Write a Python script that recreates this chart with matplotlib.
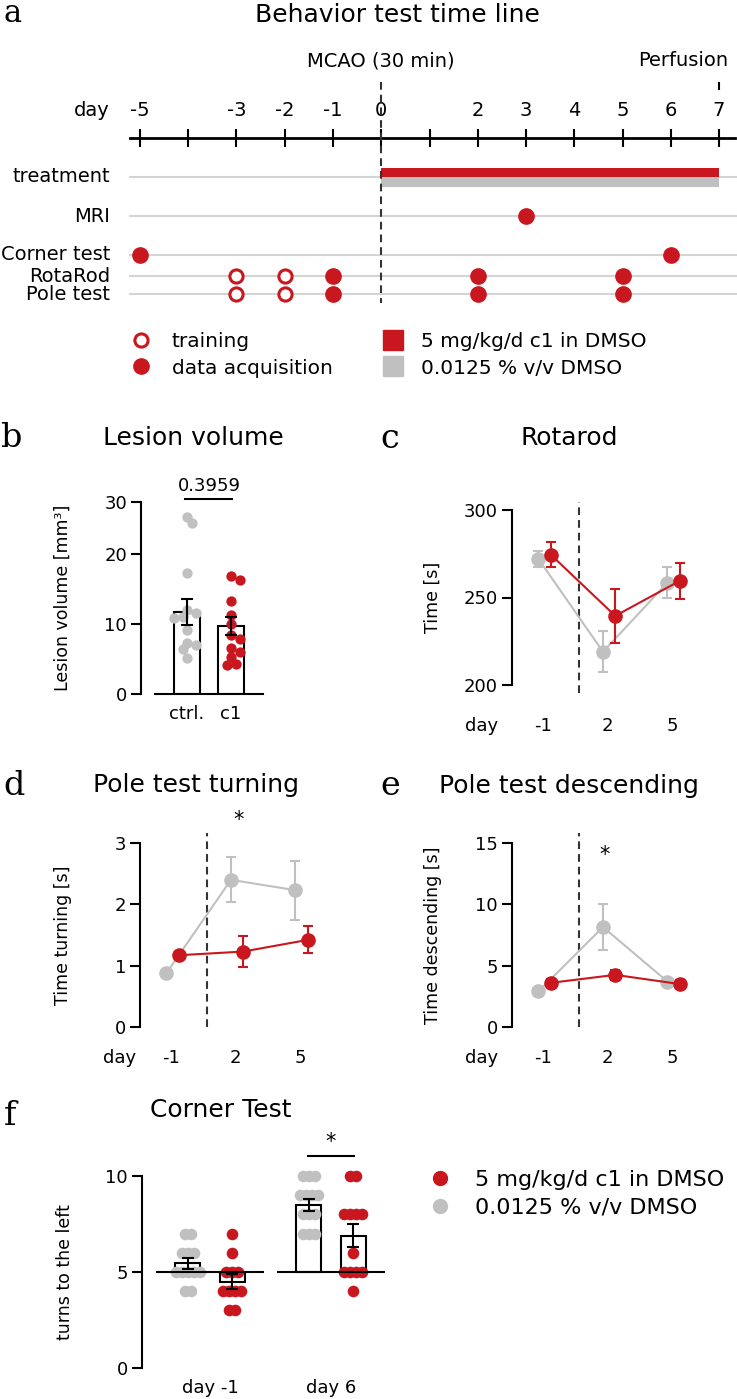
import numpy as np
import matplotlib
matplotlib.use("Agg")
import matplotlib.pyplot as plt
from matplotlib.lines import Line2D
from matplotlib.transforms import offset_copy

# ========= Data =========
# a: behaviour test time line (days)
timeline_ticks = list(range(-5, 8))
timeline_labels = [-5, -3, -2, -1, 0, 2, 3, 4, 5, 6, 7]
treatment_days = [0, 7]
row_names = ["treatment", "MRI", "Corner test", "RotaRod", "Pole test"]
mri_days = [3]
corner_days = [-5, 6]
rotarod_training = [-3, -2]
rotarod_data = [-1, 2, 5]
pole_training = [-3, -2]
pole_data = [-1, 2, 5]

# b: lesion volume [mm3]
lesion_groups = ["ctrl.", "c1"]
lesion_ctrl = [27.2, 25.9, 17.3, 12.0, 11.6, 11.0, 10.8, 9.2, 7.3, 7.0, 6.4, 5.1]
lesion_c1 = [16.8, 16.3, 13.3, 11.3, 10.0, 8.4, 7.9, 6.6, 6.0, 5.3, 4.3, 4.2]
lesion_mean = [11.7, 9.7]
lesion_sem = [1.9, 1.3]
lesion_p = "0.3959"

# c-e: days after MCAO
test_days = ["-1", "2", "5"]
rota_ctrl = [272, 219, 258.5]
rota_ctrl_sem = [4.5, 11.7, 9.0]
rota_c1 = [274.5, 239.5, 259.5]
rota_c1_sem = [7.0, 15.5, 10.5]

turn_ctrl = [0.88, 2.40, 2.23]
turn_ctrl_sem = [0.05, 0.37, 0.48]
turn_c1 = [1.17, 1.23, 1.42]
turn_c1_sem = [0.05, 0.25, 0.22]

desc_ctrl = [2.9, 8.15, 3.7]
desc_ctrl_sem = [0.2, 1.9, 0.3]
desc_c1 = [3.6, 4.25, 3.5]
desc_c1_sem = [0.3, 0.4, 0.3]

# f: corner test, turns to the left
corner_labels = ["day -1", "day 6"]
corner_ctrl_d1 = [7, 7, 6, 6, 6, 5, 5, 5, 5, 5, 4, 4]
corner_c1_d1 = [7, 6, 5, 5, 5, 4, 4, 4, 4, 3, 3]
corner_ctrl_d6 = [10, 10, 10, 9, 9, 9, 9, 8, 8, 8, 7, 7, 7]
corner_c1_d6 = [10, 10, 8, 8, 8, 8, 6, 5, 5, 5, 5, 4]
corner_ctrl_mean = [5.45, 8.5]
corner_ctrl_sem = [0.27, 0.3]
corner_c1_mean = [4.5, 6.9]
corner_c1_sem = [0.4, 0.6]
corner_baseline = 5

# ========= Style =========
W, H = 737, 1399
RED = "#c8171e"
GREY = "#c0c0c0"
ROW_GREY = "#d4d4d4"
DASH = "#333333"
DASHES = (0, (3.7, 2.4))

plt.rcParams["font.family"] = "DejaVu Sans"
fig = plt.figure(figsize=(W / 100, H / 100), dpi=100)


def px_axes(left, top, right, bottom):
    return fig.add_axes([left / W, 1 - bottom / H, (right - left) / W, (bottom - top) / H])


def px_text(x, y, s, **kw):
    fig.text(x / W, 1 - y / H, s, **kw)


def panel_letter(x, y, s, size=24):
    px_text(x, y, s, family="DejaVu Serif", fontsize=size, ha="center", va="baseline")


def panel_title(x, y, s):
    px_text(x, y, s, fontsize=18, ha="center", va="center")


def style_y(ax, label, label_px, left_px, width_px):
    for side in ["top", "right", "bottom"]:
        ax.spines[side].set_visible(False)
    ax.spines["left"].set_linewidth(1.5)
    ax.tick_params(axis="y", length=7, width=1.5, labelsize=13, pad=3)
    ax.set_ylabel(label, fontsize=12.5)
    # label anchor is the right side of the rotated text
    ax.yaxis.set_label_coords((label_px + 9 - left_px) / width_px, 0.5)


def swarm_x(ax, x0, values, diam_px, step_px):
    # push overlapping points sideways, like a beeswarm
    ys = ax.transData.transform(np.column_stack([np.full(len(values), x0), values]))[:, 1]
    unit = ax.transData.transform([[1, 0]])[0, 0] - ax.transData.transform([[0, 0]])[0, 0]
    placed = []
    offsets = []
    for y in ys:
        for k in range(40):
            off = ((k + 1) // 2) * step_px * (1 if k % 2 else -1)
            if all((off - po) ** 2 + (y - py) ** 2 >= diam_px ** 2 for po, py in placed):
                break
        placed.append((off, y))
        offsets.append(off)
    return x0 + np.array(offsets) / unit


def centered_x(x0, values, step):
    values = np.asarray(values)
    xs = np.zeros(len(values))
    for v in np.unique(values):
        idx = np.where(values == v)[0]
        xs[idx] = x0 + (np.arange(len(idx)) - (len(idx) - 1) / 2) * step
    return xs


# ========= a: time line =========
day_px = 48.25
axa = px_axes(0, 0, W, 380)
axa.set_xlim(-5 - 140 / day_px, 7 + (W - 719) / day_px)
axa.set_ylim(380, 0)
axa.axis("off")


def dx(px):
    return -5 + (px - 140) / day_px


panel_letter(13, 22, "a", 22)
panel_title(397, 15, "Behavior test time line")

axa.text(0, 61, "MCAO (30 min)", ha="center", va="center", fontsize=14)
axa.text(dx(683), 61, "Perfusion", ha="center", va="center", fontsize=14)
axa.vlines(timeline_ticks[-1], 82, 90, color="black", lw=1.5)
axa.text(dx(92), 110, "day", ha="center", va="center", fontsize=14)
for d in timeline_labels:
    axa.text(d, 110, str(d), ha="center", va="center", fontsize=14)
axa.plot([dx(130), dx(735)], [138, 138], color="black", lw=2)
axa.vlines(timeline_ticks, 129, 147, color="black", lw=1.5)
axa.vlines(0, 82, 303, color=DASH, lw=1.5, linestyles=DASHES, zorder=4)

row_y = [177, 216, 255, 276, 294]
for name, y in zip(row_names, row_y):
    axa.plot([dx(130), dx(737)], [y, y], color=ROW_GREY, lw=1.5, zorder=1)
    axa.text(dx(110), y, name, ha="right", va="center", fontsize=14)

axa.barh(172.5, treatment_days[1] - treatment_days[0], left=treatment_days[0], height=9.5, color=RED, zorder=2)
axa.barh(182, treatment_days[1] - treatment_days[0], left=treatment_days[0], height=9.5, color=GREY, zorder=2)

filled = dict(ls="none", marker="o", color=RED, ms=11, zorder=3)
hollow = dict(ls="none", marker="o", mfc="white", mec=RED, mew=2.2, ms=9.5, zorder=3)
axa.plot(mri_days, [row_y[1]] * len(mri_days), **filled)
axa.plot(corner_days, [row_y[2]] * len(corner_days), **filled)
axa.plot(rotarod_training, [row_y[3]] * len(rotarod_training), **hollow)
axa.plot(rotarod_data, [row_y[3]] * len(rotarod_data), **filled)
axa.plot(pole_training, [row_y[4]] * len(pole_training), **hollow)
axa.plot(pole_data, [row_y[4]] * len(pole_data), **filled)

fs_leg = 14.5
em = fs_leg * 100 / 72
leg_kw = dict(frameon=False, fontsize=fs_leg, handlelength=1.0, borderpad=0, borderaxespad=0,
              labelspacing=0.35, loc="center left", bbox_transform=fig.transFigure)
leg1 = axa.legend([Line2D([], [], **hollow), Line2D([], [], **filled)], ["training", "data acquisition"],
                  bbox_to_anchor=((141 - em / 2) / W, 1 - 355 / H),
                  handletextpad=(172 - 141 - em / 2) / em, **leg_kw)
axa.add_artist(leg1)
sq = dict(ls="none", marker="s", ms=13.7)
axa.legend([Line2D([], [], color=RED, **sq), Line2D([], [], color=GREY, **sq)],
           ["5 mg/kg/d c1 in DMSO", "0.0125 % v/v DMSO"],
           bbox_to_anchor=((393 - em / 2) / W, 1 - 355 / H),
           handletextpad=(421 - 393 - em / 2) / em, **leg_kw)

# ========= b: lesion volume =========
panel_letter(12, 447, "b")
panel_title(193, 438, "Lesion volume")


def b_fwd(v):
    v = np.asarray(v, dtype=float)
    return np.where(v <= 20, v, 20 + (v - 20) * 0.743)


def b_inv(v):
    v = np.asarray(v, dtype=float)
    return np.where(v <= 20, v, 20 + (v - 20) / 0.743)


axb = px_axes(141, 502, 268, 694)
axb.set_yscale("function", functions=(b_fwd, b_inv))
xb = np.arange(len(lesion_groups))
axb.set_yticks([0, 10, 20, 30])
axb.set_xticks(xb, lesion_groups)
axb.set_ylim(0, 30)
axb.set_xlim(-1.045, 1.84)
axb.bar(xb, lesion_mean, width=0.59, color="white", edgecolor="black", lw=1.5, zorder=1)
for i, (vals, col) in enumerate([(lesion_ctrl, GREY), (lesion_c1, RED)]):
    axb.scatter(swarm_x(axb, i, vals, 7.5, 4.5), vals, s=55, color=col, lw=0, zorder=2)
axb.errorbar(xb, lesion_mean, yerr=lesion_sem, fmt="none", ecolor="black", elinewidth=1.5,
             capsize=4.5, capthick=1.5, zorder=4)
style_y(axb, "Lesion volume [mm³]", 63, 141, 127)
axb.spines["bottom"].set_visible(True)
axb.spines["bottom"].set_linewidth(1.5)
axb.spines["bottom"].set_bounds(-0.73, 1.73)
axb.spines["left"].set_bounds(0, 30)
axb.tick_params(axis="x", length=0, pad=8, labelsize=13)
axb.plot([-0.05, 1.02], [30.6, 30.6], color="black", lw=1.5, clip_on=False)
axb.text(0.5, 33, lesion_p, ha="center", va="center", fontsize=13)


# ========= c-e: time courses =========
def time_panel(box, ctrl, ctrl_sem, c1, c1_sem, ylim, yticks, ylabel, label_px, tick_gap, dash_y, day_gap):
    left, top, right, bottom = box
    ax = px_axes(left, top, right, bottom)
    unit = 64.5
    x = np.arange(len(test_days))
    pad = (tick_gap - 8) * 0.72
    ax.set_yticks(yticks)
    ax.set_xticks(x, test_days)
    ax.set_xlim(-31 / unit, (right - left - 31) / unit)
    ax.set_ylim(*ylim)
    ax.errorbar(x - 0.07, ctrl, yerr=ctrl_sem, color=GREY, marker="o", ms=9.5, lw=1.5,
                capsize=3.6, capthick=1.5, zorder=2, clip_on=False)
    ax.errorbar(x + 0.12, c1, yerr=c1_sem, color=RED, marker="o", ms=9.5, lw=1.5,
                capsize=3.6, capthick=1.5, zorder=3, clip_on=False)
    h = bottom - top
    ax.axvline(0.56, ymin=(bottom - dash_y[1]) / h, ymax=(bottom - dash_y[0]) / h,
               color=DASH, lw=1.5, ls=DASHES, clip_on=False)
    style_y(ax, ylabel, label_px, left, right - left)
    ax.tick_params(axis="x", length=0, pad=pad, labelsize=13)
    ax.text((day_gap - 31) / unit, 0, "day", ha="center", va="top", fontsize=13,
            transform=offset_copy(ax.get_xaxis_transform(), fig=fig, y=-pad, units="points"))
    return ax


panel_letter(390, 448, "c")
panel_title(569, 438, "Rotarod")
time_panel((512, 510, 705, 685), rota_ctrl, rota_ctrl_sem, rota_c1, rota_c1_sem,
           (200, 300), [200, 250, 300], "Time [s]", 433, 40, (502, 693), -30)

panel_letter(14, 795, "d")
panel_title(196, 785, "Pole test turning")
axd = time_panel((140, 843, 333, 1027), turn_ctrl, turn_ctrl_sem, turn_c1, turn_c1_sem,
                 (0, 3), [0, 1, 2, 3], "Time turning [s]", 63, 30, (833, 1027), -20)
axd.text(1.05, 3.38, "*", ha="center", va="center", fontsize=15)

panel_letter(390, 795, "e")
panel_title(569, 786, "Pole test descending")
axe = time_panel((512, 843, 705, 1027), desc_ctrl, desc_ctrl_sem, desc_c1, desc_c1_sem,
                 (0, 15), [0, 5, 10, 15], "Time descending [s]", 433, 30, (833, 1027), -30)
axe.text(0.95, 14.0, "*", ha="center", va="center", fontsize=15)

# ========= f: corner test =========
panel_letter(10, 1125, "f")
panel_title(221, 1110, "Corner Test")
axf = px_axes(142, 1176, 392, 1368)
g = np.arange(len(corner_labels))
axf.set_yticks([0, 5, 10])
axf.set_xticks(g, corner_labels)
axf.set_xlim((142 - 210) / 121, (392 - 210) / 121)
axf.set_ylim(0, 10)
half = 0.183
axf.bar(g - half, np.subtract(corner_ctrl_mean, corner_baseline), bottom=corner_baseline, width=0.207,
        color="white", edgecolor="black", lw=1.5, zorder=1)
axf.bar(g + half, np.subtract(corner_c1_mean, corner_baseline), bottom=corner_baseline, width=0.207,
        color="white", edgecolor="black", lw=1.5, zorder=1)
for gi, (ctrl_vals, c1_vals) in enumerate([(corner_ctrl_d1, corner_c1_d1), (corner_ctrl_d6, corner_c1_d6)]):
    axf.scatter(centered_x(gi - half, ctrl_vals, 0.05), ctrl_vals, s=70, color=GREY, lw=0, zorder=2, clip_on=False)
    axf.scatter(centered_x(gi + half, c1_vals, 0.05), c1_vals, s=70, color=RED, lw=0, zorder=2, clip_on=False)
axf.hlines(np.full(len(g), corner_baseline), g - 0.446, g + 0.446, color="black", lw=1.5, zorder=3)
axf.errorbar(g - half, corner_ctrl_mean, yerr=corner_ctrl_sem, fmt="none", ecolor="black",
             elinewidth=1.5, capsize=4.5, capthick=1.5, zorder=4)
axf.errorbar(g + half, corner_c1_mean, yerr=corner_c1_sem, fmt="none", ecolor="black",
             elinewidth=1.5, capsize=4.5, capthick=1.5, zorder=4)
style_y(axf, "turns to the left", 65, 142, 250)
axf.tick_params(axis="x", length=0, pad=8, labelsize=13)
axf.plot([0.81, 1.19], [11.04, 11.04], color="black", lw=1.5, clip_on=False)
axf.text(1.0, 11.77, "*", ha="center", va="center", fontsize=15)

fs_leg_f = 16
em_f = fs_leg_f * 100 / 72
axf.legend([Line2D([], [], ls="none", marker="o", color=RED, ms=10),
            Line2D([], [], ls="none", marker="o", color=GREY, ms=10)],
           ["5 mg/kg/d c1 in DMSO", "0.0125 % v/v DMSO"],
           frameon=False, fontsize=fs_leg_f, handlelength=1.0, borderpad=0, borderaxespad=0,
           labelspacing=0.35, loc="center left", bbox_transform=fig.transFigure,
           bbox_to_anchor=((440 - em_f / 2) / W, 1 - 1194 / H),
           handletextpad=(475 - 440 - em_f / 2) / em_f)

fig.savefig("out.png", dpi=100)
